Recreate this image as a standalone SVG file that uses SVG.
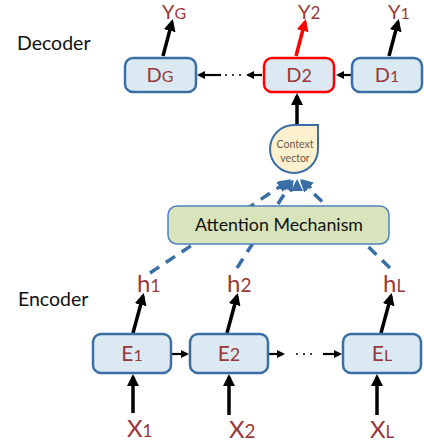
<svg xmlns="http://www.w3.org/2000/svg" width="424" height="448" viewBox="0 0 424 448">
<defs>
<style>
.box{fill:#dbeaf2;stroke:#3a6ea5;stroke-width:2.5}
.lbl{font-family:Lato,"Open Sans","Liberation Sans",sans-serif;fill:#983838}
.cap{font-family:Lato,"Open Sans","Liberation Sans",sans-serif;fill:#111;font-size:19.5px}
.ctx{font-family:Lato,"Open Sans","Liberation Sans",sans-serif;fill:#6b5a4a;font-size:10.5px}
.thick{stroke:#000;stroke-width:3.5;fill:none}
.thin{stroke:#000;stroke-width:2.2;fill:none}
.dash{stroke:#3a6ea5;stroke-width:3.5;fill:none;stroke-dasharray:11 8}
.stub{stroke:#3a6ea5;stroke-width:3.5;fill:none}
.dot{fill:#000}
</style>
<marker id="ah" viewBox="0 0 12 12" markerWidth="12" markerHeight="12" markerUnits="userSpaceOnUse" refX="9" refY="6" orient="auto"><path d="M0,0 L12,6 L0,12 z" fill="#000"/></marker>
<marker id="ahr" viewBox="0 0 12 12" markerWidth="12" markerHeight="12" markerUnits="userSpaceOnUse" refX="9" refY="6" orient="auto"><path d="M0,0 L12,6 L0,12 z" fill="#ff0000"/></marker>
<marker id="as" viewBox="0 0 8 8" markerWidth="8" markerHeight="8" markerUnits="userSpaceOnUse" refX="6" refY="4" orient="auto"><path d="M0,0 L8,4 L0,8 z" fill="#000"/></marker>
<marker id="ab" viewBox="0 0 12 12" markerWidth="12" markerHeight="12" markerUnits="userSpaceOnUse" refX="9" refY="6" orient="auto"><path d="M0,0 L12,6 L0,12 z" fill="#3a6ea5"/></marker>
</defs>
<rect width="424" height="448" fill="#fff"/>

<text class="cap" x="17" y="50">Decoder</text>
<text class="cap" x="18" y="306">Encoder</text>

<g id="connectors">
  <path class="dash" d="M150,273 L287,182" marker-end="url(#ab)"/>
  <path class="dash" d="M237,268 L292,182" marker-end="url(#ab)"/>
  <path class="dash" d="M390,268 L302,182" marker-end="url(#ab)"/>
  <path class="stub" d="M279,188 L289,181" marker-end="url(#ab)"/>
  <path class="stub" d="M297,191 L297,182" marker-end="url(#ab)"/>
  <path class="stub" d="M311,188 L303,181" marker-end="url(#ab)"/>
  <path class="thick" d="M297,125 L297,96" marker-end="url(#ah)"/>
  <path class="thick" d="M163,56 L172,22" marker-end="url(#ah)"/>
  <path stroke="#ff0000" stroke-width="3.5" fill="none" d="M296,56 L305,22" marker-end="url(#ahr)"/>
  <path class="thick" d="M389,56 L398,22" marker-end="url(#ah)"/>
  <path class="thin" d="M352,75 L338,75" marker-end="url(#as)"/>
  <path class="thin" d="M262,75 L248,75" marker-end="url(#as)"/>
  <circle class="dot" cx="226" cy="75" r="1"/>
  <circle class="dot" cx="233" cy="75" r="1"/>
  <circle class="dot" cx="240" cy="75" r="1"/>
  <path class="thin" d="M221,75 L199,75" marker-end="url(#as)"/>
  <path class="thin" d="M171,354 L187,354" marker-end="url(#as)"/>
  <path class="thin" d="M268,354 L283,354" marker-end="url(#as)"/>
  <circle class="dot" cx="297" cy="354" r="1"/>
  <circle class="dot" cx="304" cy="354" r="1"/>
  <circle class="dot" cx="311" cy="354" r="1"/>
  <path class="thin" d="M323,354 L340,354" marker-end="url(#as)"/>
  <path class="thick" d="M133,333 L143,296" marker-end="url(#ah)"/>
  <path class="thick" d="M227,333 L237,296" marker-end="url(#ah)"/>
  <path class="thick" d="M381,333 L391,296" marker-end="url(#ah)"/>
  <path class="thick" d="M133,413 L133,377" marker-end="url(#ah)"/>
  <path class="thick" d="M229,415 L229,377" marker-end="url(#ah)"/>
  <path class="thick" d="M377,415 L377,377" marker-end="url(#ah)"/>
</g>

<g id="attention">
  <rect x="168" y="206" width="221" height="38" rx="9" fill="#d8e4bc" stroke="#4f81bd" stroke-width="1.5"/>
  <text x="279" y="231" text-anchor="middle" font-family="Lato,'Open Sans','Liberation Sans',sans-serif" font-size="17" fill="#111" textLength="168" lengthAdjust="spacingAndGlyphs">Attention Mechanism</text>
</g>

<g id="context">
  <path d="M318,125 L318,149 A24,24 0 1 1 294,125 Z" fill="#fdf0cf" stroke="#3a6ea5" stroke-width="2"/>
  <text class="ctx" x="295" y="148" text-anchor="middle">Context</text>
  <text class="ctx" x="295" y="162" text-anchor="middle">vector</text>
</g>

<g id="DG"><rect class="box" x="125" y="58" width="71" height="34" rx="8"/><text class="lbl" x="160" y="82" text-anchor="middle" font-size="20">D<tspan font-size="16">G</tspan></text></g>
<g id="D2"><rect class="box" x="264" y="58" width="70" height="34" rx="8" style="stroke:#ff0000"/><text class="lbl" x="299" y="82" text-anchor="middle" font-size="20">D<tspan font-size="18">2</tspan></text></g>
<g id="D1"><rect class="box" x="352" y="58" width="70" height="34" rx="8"/><text class="lbl" x="387" y="82" text-anchor="middle" font-size="20">D<tspan font-size="16">1</tspan></text></g>

<g id="YG"><text class="lbl" x="162" y="19" font-size="20">Y<tspan font-size="16">G</tspan></text></g>
<g id="Y2"><text class="lbl" x="298" y="19" font-size="20">Y<tspan font-size="17">2</tspan></text></g>
<g id="Y1"><text class="lbl" x="388" y="19" font-size="20">Y<tspan font-size="16">1</tspan></text></g>

<g id="E1"><rect class="box" x="93" y="334" width="78" height="39" rx="8"/><text class="lbl" x="132" y="361" text-anchor="middle" font-size="21">E<tspan font-size="16">1</tspan></text></g>
<g id="E2"><rect class="box" x="190" y="334" width="78" height="39" rx="8"/><text class="lbl" x="229" y="361" text-anchor="middle" font-size="21">E<tspan font-size="18">2</tspan></text></g>
<g id="EL"><rect class="box" x="343" y="334" width="78" height="39" rx="8"/><text class="lbl" x="382" y="361" text-anchor="middle" font-size="21">E<tspan font-size="16">L</tspan></text></g>

<g id="h1"><text class="lbl" x="137" y="292" font-size="24">h<tspan font-size="17">1</tspan></text></g>
<g id="h2"><text class="lbl" x="227" y="292" font-size="24">h<tspan font-size="19">2</tspan></text></g>
<g id="hL"><text class="lbl" x="383" y="292" font-size="24">h<tspan font-size="17">L</tspan></text></g>

<g id="X1"><text class="lbl" x="127" y="437" font-size="24">X<tspan font-size="17">1</tspan></text></g>
<g id="X2"><text class="lbl" x="229" y="438" font-size="24">X<tspan font-size="19">2</tspan></text></g>
<g id="XL"><text class="lbl" x="370" y="438" font-size="24">X<tspan font-size="17">L</tspan></text></g>
</svg>
